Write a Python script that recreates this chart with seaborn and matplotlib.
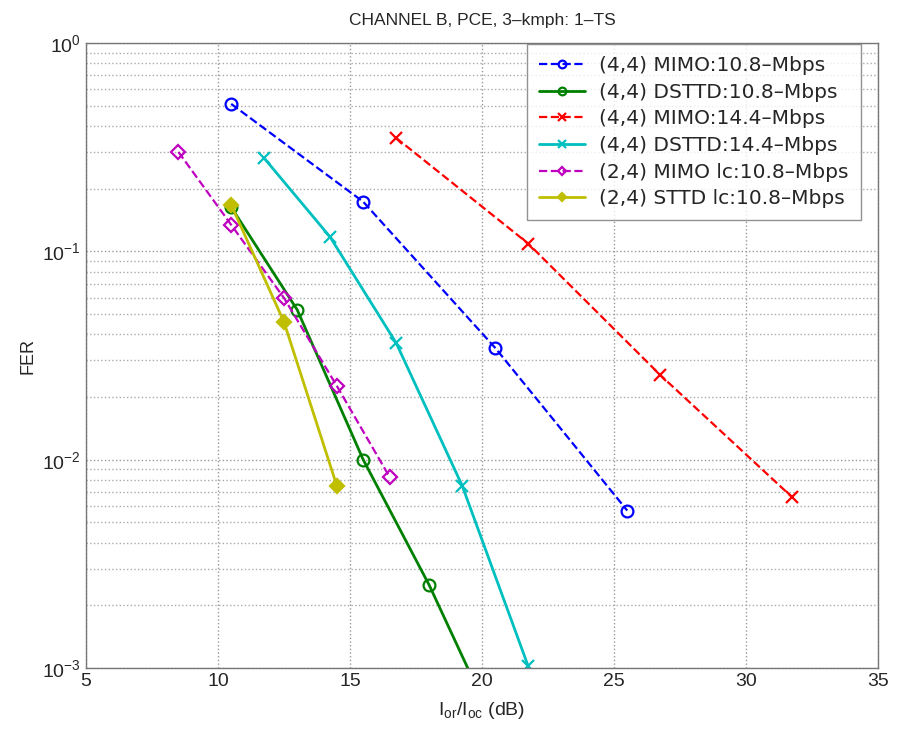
import matplotlib
matplotlib.use("Agg")
import matplotlib.pyplot as plt
import seaborn as sns
import pandas as pd

# FER vs I_or/I_oc for each configuration
mimo44_108_x = [10.5, 15.5, 20.5, 25.5]
mimo44_108_y = [0.51, 0.173, 0.0344, 0.0057]

dsttd44_108_x = [10.5, 13.0, 15.5, 18.0, 20.5]
dsttd44_108_y = [0.163, 0.0524, 0.0100, 0.0025, 0.00052]

mimo44_144_x = [16.75, 21.75, 26.75, 31.75]
mimo44_144_y = [0.35, 0.109, 0.0255, 0.0066]

dsttd44_144_x = [11.75, 14.25, 16.75, 19.25, 21.75]
dsttd44_144_y = [0.28, 0.117, 0.0363, 0.0075, 0.00102]

mimo24_x = [8.5, 10.5, 12.5, 14.5, 16.5]
mimo24_y = [0.30, 0.134, 0.0597, 0.0226, 0.00826]

sttd24_x = [10.5, 12.5, 14.5]
sttd24_y = [0.167, 0.0458, 0.0075]

labels = ["(4,4) MIMO:10.8\u2013Mbps", "(4,4) DSTTD:10.8\u2013Mbps",
          "(4,4) MIMO:14.4\u2013Mbps", "(4,4) DSTTD:14.4\u2013Mbps",
          "(2,4) MIMO lc:10.8\u2013Mbps", "(2,4) STTD lc:10.8\u2013Mbps"]

x_ticks = [5, 10, 15, 20, 25, 30, 35]

series = [
    (mimo44_108_x, mimo44_108_y, dict(color=(0, 0, 1), linestyle="--", marker="o", ms=8.5, mfc="none", lw=1.6)),
    (dsttd44_108_x, dsttd44_108_y, dict(color=(0, 0.5, 0), linestyle="-", marker="o", ms=8.5, mfc="none", lw=2.0)),
    (mimo44_144_x, mimo44_144_y, dict(color=(1, 0, 0), linestyle="--", marker="x", ms=8, mfc="none", lw=1.6)),
    (dsttd44_144_x, dsttd44_144_y, dict(color=(0, 0.75, 0.75), linestyle="-", marker="x", ms=8, mfc="none", lw=2.0)),
    (mimo24_x, mimo24_y, dict(color=(0.75, 0, 0.75), linestyle="--", marker="D", ms=7, mfc="none", lw=1.6)),
    (sttd24_x, sttd24_y, dict(color=(0.75, 0.75, 0), linestyle="-", marker="D", ms=7, mfc=(0.75, 0.75, 0), lw=2.0)),
]

sns.set_style("white")
plt.rcParams["font.family"] = ["Liberation Sans", "DejaVu Sans"]
plt.rcParams["mathtext.fontset"] = "custom"
plt.rcParams["mathtext.rm"] = "Liberation Sans"
plt.rcParams["mathtext.it"] = "Liberation Sans:italic"

fig = plt.figure(figsize=(8.98, 7.38), dpi=100)
ax = fig.add_axes([86 / 898, 1 - 668 / 738, (878 - 86) / 898, (668 - 43) / 738])

for (xs, ys, st), lab in zip(series, labels):
    df = pd.DataFrame({"x": xs, "y": ys})
    sns.lineplot(data=df, x="x", y="y", ax=ax, sort=False, label=lab,
                 color=st["color"], linestyle=st["linestyle"], linewidth=st["lw"],
                 marker=st["marker"], markersize=st["ms"], markerfacecolor=st["mfc"],
                 markeredgecolor=st["color"], markeredgewidth=1.6)

ax.set_yscale("log")
ax.set_xlim(5, 35)
ax.set_ylim(1e-3, 1)
ax.set_xticks(x_ticks)
ax.set_xticklabels([str(t) for t in x_ticks])

ax.grid(True, which="major", axis="both", linestyle=":", color="#999999", linewidth=1.0)
ax.grid(True, which="minor", axis="y", linestyle=":", color="#aaaaaa", linewidth=1.0)
ax.tick_params(axis="both", which="both", direction="in", labelsize=14, color="#555555")
ax.tick_params(axis="both", which="major", length=5)
ax.tick_params(axis="y", which="minor", length=3)
for sp in ax.spines.values():
    sp.set_color("#777777")
    sp.set_linewidth(1.0)

ax.set_title("CHANNEL B, PCE, 3\u2013kmph: 1\u2013TS", fontsize=12.5, pad=13)
ax.set_ylabel("FER", fontsize=13, labelpad=4)
ax.set_xlabel(r"$\mathrm{I_{or}/I_{oc}}$ (dB)", fontsize=14, labelpad=7)

leg = ax.legend(loc="upper right", bbox_to_anchor=(861 / 898, 1 - 44 / 738),
                bbox_transform=fig.transFigure, borderaxespad=0,
                prop={"family": ["DejaVu Sans"], "size": 14.5},
                frameon=True, fancybox=False, handlelength=2.3, labelspacing=0.38,
                borderpad=0.6, handletextpad=0.7, markerscale=0.65)
leg.get_frame().set_edgecolor("#777777")
leg.get_frame().set_linewidth(1.0)

fig.savefig("out.png", dpi=100)
